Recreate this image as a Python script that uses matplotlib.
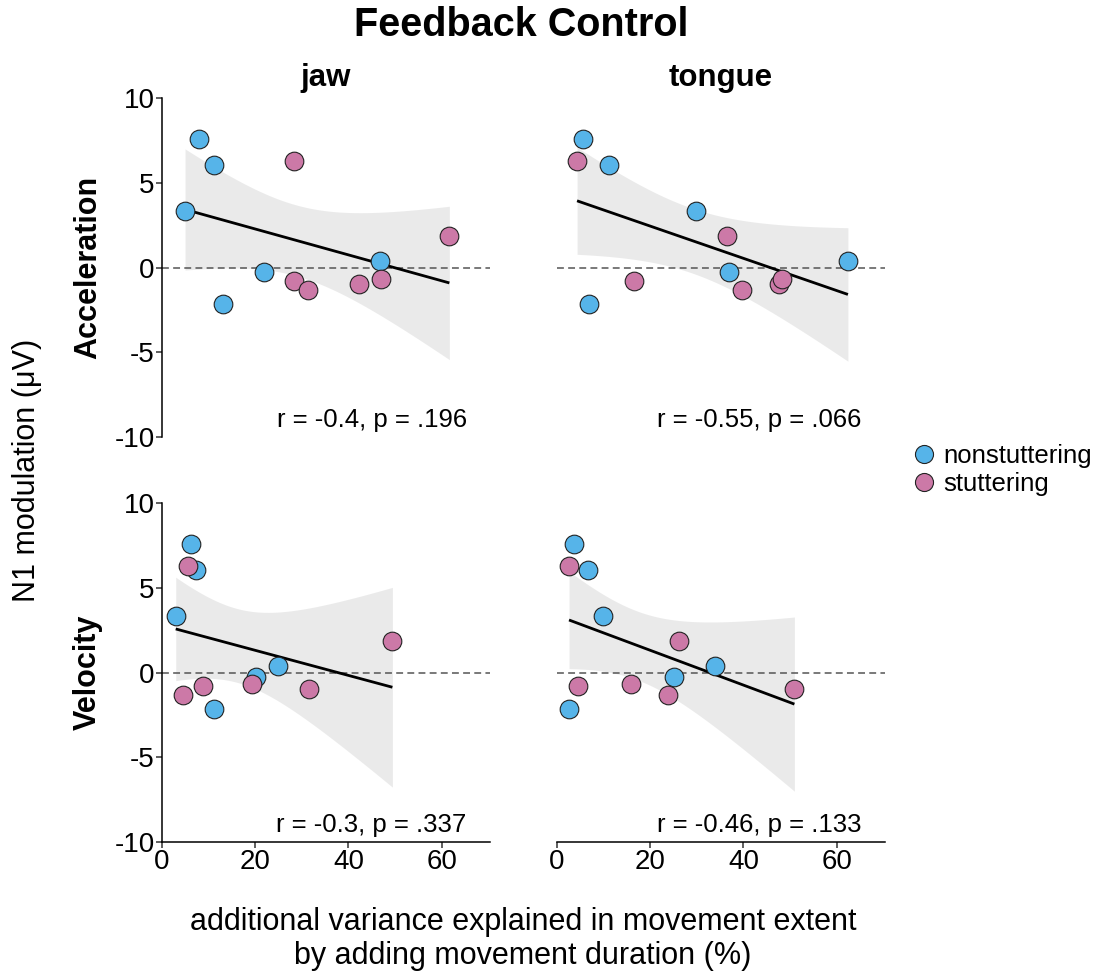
import numpy as np
import matplotlib
matplotlib.use("Agg")
import matplotlib.pyplot as plt
from matplotlib.lines import Line2D

plt.rcParams['font.family'] = ['Liberation Sans', 'DejaVu Sans']

# ---- data ----
n1_nonstut = [7.62, 6.08, 3.33, -0.25, -2.18, 0.37]
n1_stut = [6.27, 1.88, -0.82, -1.33, -1.00, -0.68]

# additional variance explained (%) per panel: (measure, articulator)
x_acc_jaw_non = [8.07, 11.29, 5.0, 21.8, 13.07, 46.8]
x_acc_jaw_stu = [28.36, 61.6, 28.36, 31.3, 42.3, 47.0]
x_acc_tng_non = [5.57, 11.29, 29.8, 37.0, 7.0, 62.36]
x_acc_tng_stu = [4.36, 36.4, 16.57, 39.6, 47.7, 48.2]
x_vel_jaw_non = [6.29, 7.36, 3.0, 20.2, 11.29, 24.8]
x_vel_jaw_stu = [5.57, 49.4, 8.93, 4.5, 31.6, 19.36]
x_vel_tng_non = [3.71, 6.64, 9.86, 25.1, 2.64, 33.8]
x_vel_tng_stu = [2.71, 26.1, 4.64, 23.9, 50.9, 15.9]

stats_labels = {
    ('Acceleration', 'jaw'): 'r = -0.4, p = .196',
    ('Acceleration', 'tongue'): 'r = -0.55, p = .066',
    ('Velocity', 'jaw'): 'r = -0.3, p = .337',
    ('Velocity', 'tongue'): 'r = -0.46, p = .133',
}
panel_x = {
    ('Acceleration', 'jaw'): (x_acc_jaw_non, x_acc_jaw_stu),
    ('Acceleration', 'tongue'): (x_acc_tng_non, x_acc_tng_stu),
    ('Velocity', 'jaw'): (x_vel_jaw_non, x_vel_jaw_stu),
    ('Velocity', 'tongue'): (x_vel_tng_non, x_vel_tng_stu),
}
rows = ['Acceleration', 'Velocity']
cols = ['jaw', 'tongue']
groups = ['nonstuttering', 'stuttering']
colors = {'nonstuttering': '#56B4E9', 'stuttering': '#CC79A7'}

xticks = [0, 20, 40, 60]
yticks = [-10, -5, 0, 5, 10]

W, H = 1109, 977
fig = plt.figure(figsize=(W / 100, H / 100), dpi=100)

def fx(px):
    return px / W

def fy(py):
    return 1 - py / H

lefts = [161.7, 556.7]
tops = [98.3, 503.3]
pw, ph = 328.3, 338.4

T975 = 2.228  # t quantile, df = 10

for ri, row in enumerate(rows):
    for ci, col in enumerate(cols):
        ax = fig.add_axes([fx(lefts[ci]), fy(tops[ri] + ph), pw / W, ph / H])
        xn, xs = panel_x[(row, col)]
        x = np.array(xn + xs, dtype=float)
        y = np.array(n1_nonstut + n1_stut, dtype=float)
        # linear fit and 95% CI
        b, a = np.polyfit(x, y, 1)
        n = len(x)
        resid = y - (a + b * x)
        s = np.sqrt(np.sum(resid ** 2) / (n - 2))
        xg = np.linspace(x.min(), x.max(), 80)
        yg = a + b * xg
        se = s * np.sqrt(1 / n + (xg - x.mean()) ** 2 / np.sum((x - x.mean()) ** 2))
        ax.fill_between(xg, yg - T975 * se, yg + T975 * se, color='#999999',
                        alpha=0.2, linewidth=0, zorder=1)
        ax.axhline(0, color='#555555', lw=1.1, linestyle=(0, (4.5, 2.8)), zorder=2)
        ax.plot(xg, yg, color='black', lw=2.0, zorder=3, solid_capstyle='butt')
        ax.scatter(xn, n1_nonstut, s=180, color=colors['nonstuttering'],
                   edgecolor='#222222', linewidth=0.8, zorder=4)
        ax.scatter(xs, n1_stut, s=180, color=colors['stuttering'],
                   edgecolor='#222222', linewidth=0.8, zorder=4)
        ax.text(65.3, -9.0, stats_labels[(row, col)], ha='right', va='center',
                fontsize=18.5, color='black')
        ax.set_xlim(0, 70.3)
        ax.set_ylim(-10, 10)
        for sp in ['top', 'right']:
            ax.spines[sp].set_visible(False)
        ax.spines['left'].set_linewidth(1.1)
        ax.spines['bottom'].set_linewidth(1.1)
        ax.tick_params(width=1.1, length=4, labelsize=20, pad=1, color='#333333')
        ax.set_xticks(xticks)
        ax.set_yticks(yticks)
        if ci == 0:
            ax.set_yticklabels([str(v) for v in yticks])
        else:
            ax.spines['left'].set_visible(False)
            ax.tick_params(axis='y', left=False, labelleft=False)
        if ri == 1:
            ax.set_xticklabels([str(v) for v in xticks])
        else:
            ax.spines['bottom'].set_visible(False)
            ax.tick_params(axis='x', bottom=False, labelbottom=False)
        ax.set_facecolor('none')

# strip labels
for ci, col in enumerate(cols):
    fig.text(fx(lefts[ci] + pw / 2), fy(78), col, ha='center', va='center',
             fontsize=22.5, fontweight='bold')
for ri, row in enumerate(rows):
    fig.text(fx(88), fy(tops[ri] + ph / 2), row, ha='center', va='center',
             rotation=90, fontsize=22, fontweight='bold')

fig.text(fx(521), fy(25), 'Feedback Control', ha='center', va='center',
         fontsize=28.5, fontweight='bold')
fig.text(fx(27), fy(470), 'N1 modulation (\u03bcV)', ha='center', va='center',
         rotation=90, fontsize=22)
fig.text(fx(523), fy(922), 'additional variance explained in movement extent',
         ha='center', va='center', fontsize=22)
fig.text(fx(523), fy(956), 'by adding movement duration (%)',
         ha='center', va='center', fontsize=22)

handles = [Line2D([0], [0], marker='o', linestyle='none', markersize=13,
                  markerfacecolor=colors[g], markeredgecolor='#222222',
                  markeredgewidth=0.8, label=g) for g in groups]
fig.legend(handles=handles, loc='center left', bbox_to_anchor=(fx(896), fy(470)),
           frameon=False, fontsize=18.5, handletextpad=0.15, labelspacing=0.15,
           handlelength=1.2, borderpad=0)

fig.savefig('out.png', dpi=100)
